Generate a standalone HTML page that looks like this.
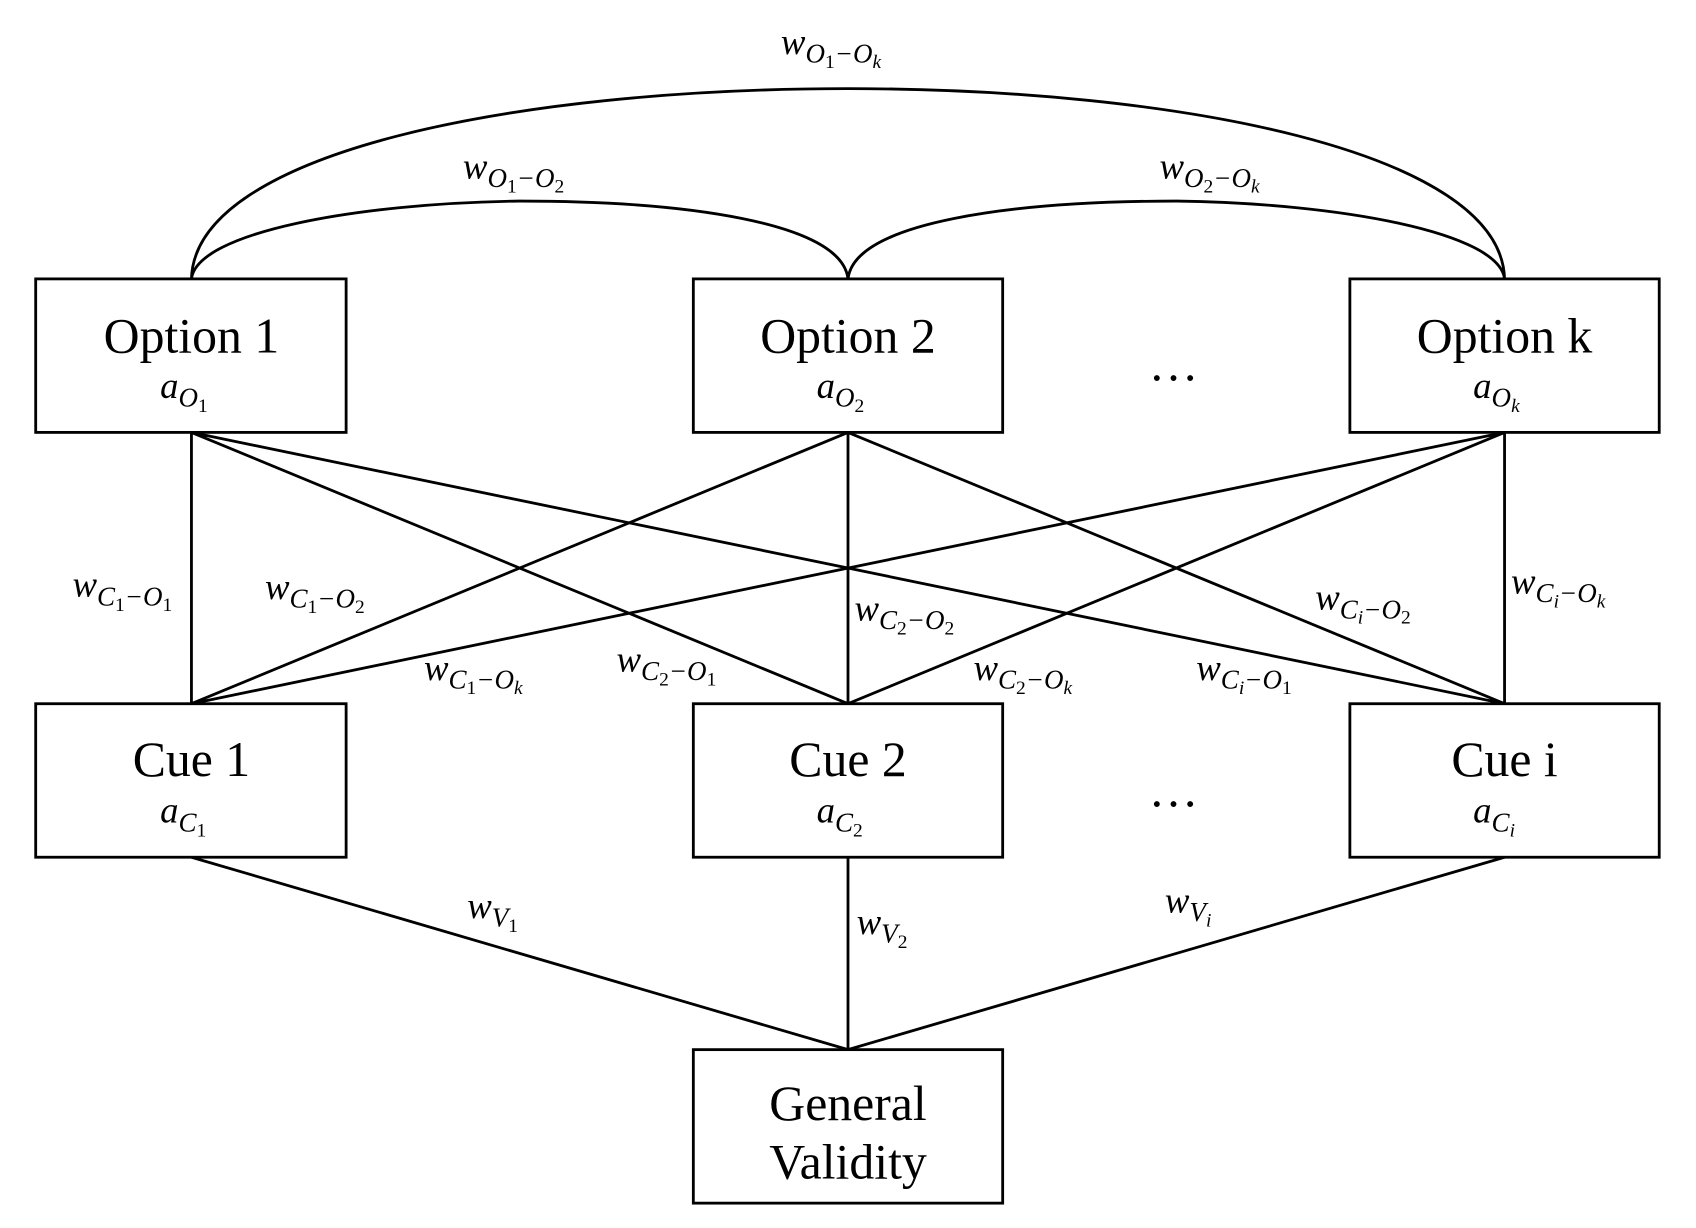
<!DOCTYPE html>
<html><head><meta charset="utf-8"><style>
html,body{margin:0;padding:0;background:#fff;}
svg{display:block;}
text{font-family:"Liberation Serif",serif;fill:#000;}
.w{font-style:italic;font-size:34px;}
.s{font-size:25px;}
.ss{font-size:18px;font-style:normal;}
.it{font-style:italic;}
.n{font-size:46px;}
</style></head><body>
<svg width="1696" height="1228" viewBox="0 0 1568 1136" preserveAspectRatio="none" xmlns="http://www.w3.org/2000/svg">
<g fill="none" stroke="#000" stroke-width="2.6">
<path d="M177,258 C180,140 480,82 784,82 C1088,82 1388,140 1391,258"/>
<path d="M177,258 C182,215 330,188 480,186 C630,186 778,205 784,258"/>
<path d="M784,258 C790,205 938,186 1088,186 C1238,188 1386,215 1391,258"/>
<rect x="33" y="258" width="287" height="142"/>
<rect x="641" y="258" width="286" height="142"/>
<rect x="1248" y="258" width="286" height="142"/>
<rect x="33" y="651" width="287" height="142"/>
<rect x="641" y="651" width="286" height="142"/>
<rect x="1248" y="651" width="286" height="142"/>
<rect x="641" y="971" width="286" height="142"/>
<path d="M177,400 L177,651 M177,400 L784,651 M177,400 L1391,651
M784,400 L177,651 M784,400 L784,651 M784,400 L1391,651
M1391,400 L177,651 M1391,400 L784,651 M1391,400 L1391,651
M177,793 L784,971 M784,793 L784,971 M1391,793 L784,971"/>
</g>
<g text-anchor="middle">
<text class="n" x="177" y="326">Option 1</text>
<text class="n" x="784" y="326">Option 2</text>
<text class="n" x="1391" y="326">Option k</text>
<text class="n" x="177" y="718">Cue 1</text>
<text class="n" x="784" y="718">Cue 2</text>
<text class="n" x="1391" y="718">Cue i</text>
<text class="n" x="784" y="1036">General</text>
<text class="n" x="784" y="1090">Validity</text>
<text class="n" x="1085" y="352">…</text>
<text class="n" x="1085" y="746">…</text>
</g>
<text class="w" x="148" y="368">a<tspan class="s" dy="8">O</tspan><tspan class="ss" dy="5">1</tspan></text>
<text class="w" x="755" y="368">a<tspan class="s" dy="8">O</tspan><tspan class="ss" dy="5">2</tspan></text>
<text class="w" x="1362" y="368">a<tspan class="s" dy="8">O</tspan><tspan class="ss it" dy="5">k</tspan></text>
<text class="w" x="148" y="761">a<tspan class="s" dy="8">C</tspan><tspan class="ss" dy="5">1</tspan></text>
<text class="w" x="755" y="761">a<tspan class="s" dy="8">C</tspan><tspan class="ss" dy="5">2</tspan></text>
<text class="w" x="1362" y="761">a<tspan class="s" dy="8">C</tspan><tspan class="ss it" dy="5">i</tspan></text>
<text class="w" x="722" y="50">w<tspan class="s" dy="8">O</tspan><tspan class="ss" dy="5">1</tspan><tspan class="s" dy="-5">−O</tspan><tspan class="ss it" dy="5">k</tspan></text>
<text class="w" x="428" y="165">w<tspan class="s" dy="8">O</tspan><tspan class="ss" dy="5">1</tspan><tspan class="s" dy="-5">−O</tspan><tspan class="ss" dy="5">2</tspan></text>
<text class="w" x="1072" y="165">w<tspan class="s" dy="8">O</tspan><tspan class="ss" dy="5">2</tspan><tspan class="s" dy="-5">−O</tspan><tspan class="ss it" dy="5">k</tspan></text>
<text class="w" x="67" y="552">w<tspan class="s" dy="8">C</tspan><tspan class="ss" dy="5">1</tspan><tspan class="s" dy="-5">−O</tspan><tspan class="ss" dy="5">1</tspan></text>
<text class="w" x="245" y="554">w<tspan class="s" dy="8">C</tspan><tspan class="ss" dy="5">1</tspan><tspan class="s" dy="-5">−O</tspan><tspan class="ss" dy="5">2</tspan></text>
<text class="w" x="392" y="629">w<tspan class="s" dy="8">C</tspan><tspan class="ss" dy="5">1</tspan><tspan class="s" dy="-5">−O</tspan><tspan class="ss it" dy="5">k</tspan></text>
<text class="w" x="570" y="621">w<tspan class="s" dy="8">C</tspan><tspan class="ss" dy="5">2</tspan><tspan class="s" dy="-5">−O</tspan><tspan class="ss" dy="5">1</tspan></text>
<text class="w" x="790" y="574">w<tspan class="s" dy="8">C</tspan><tspan class="ss" dy="5">2</tspan><tspan class="s" dy="-5">−O</tspan><tspan class="ss" dy="5">2</tspan></text>
<text class="w" x="900" y="629">w<tspan class="s" dy="8">C</tspan><tspan class="ss" dy="5">2</tspan><tspan class="s" dy="-5">−O</tspan><tspan class="ss it" dy="5">k</tspan></text>
<text class="w" x="1216" y="564">w<tspan class="s" dy="8">C</tspan><tspan class="ss it" dy="5">i</tspan><tspan class="s" dy="-5">−O</tspan><tspan class="ss" dy="5">2</tspan></text>
<text class="w" x="1106" y="629">w<tspan class="s" dy="8">C</tspan><tspan class="ss it" dy="5">i</tspan><tspan class="s" dy="-5">−O</tspan><tspan class="ss" dy="5">1</tspan></text>
<text class="w" x="1397" y="549">w<tspan class="s" dy="8">C</tspan><tspan class="ss it" dy="5">i</tspan><tspan class="s" dy="-5">−O</tspan><tspan class="ss it" dy="5">k</tspan></text>
<text class="w" x="432" y="849">w<tspan class="s" dy="8">V</tspan><tspan class="ss" dy="5">1</tspan></text>
<text class="w" x="792" y="864">w<tspan class="s" dy="8">V</tspan><tspan class="ss" dy="5">2</tspan></text>
<text class="w" x="1077" y="844">w<tspan class="s" dy="8">V</tspan><tspan class="ss it" dy="5">i</tspan></text>
</svg>
</body></html>
